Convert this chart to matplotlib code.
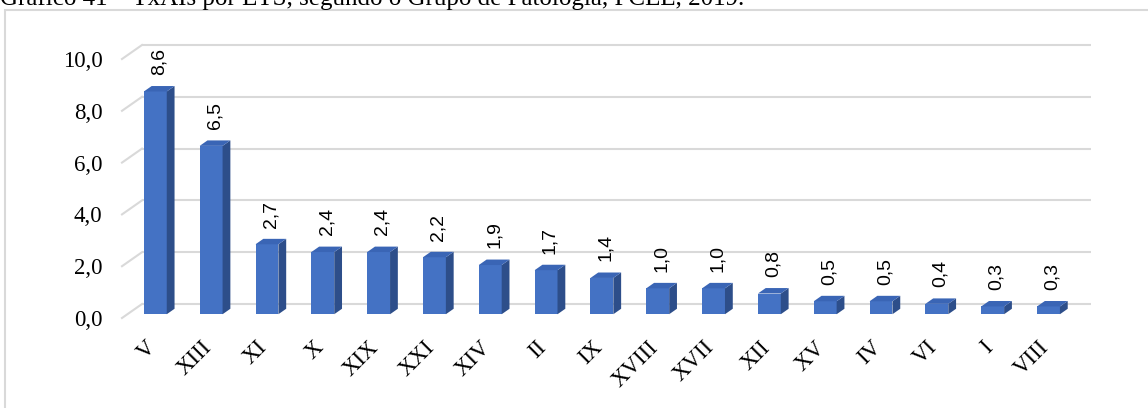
import matplotlib.pyplot as plt
from matplotlib.patches import Polygon, Rectangle

# TxAIs por ETS, by pathology group
grupos = ['V', 'XIII', 'XI', 'X', 'XIX', 'XXI', 'XIV', 'II', 'IX', 'XVIII',
          'XVII', 'XII', 'XV', 'IV', 'VI', 'I', 'VIII']
taxas = [8.6, 6.5, 2.7, 2.4, 2.4, 2.2, 1.9, 1.7, 1.4, 1.0,
         1.0, 0.8, 0.5, 0.5, 0.4, 0.3, 0.3]
yticks = [0, 2, 4, 6, 8, 10]

titulo = 'Gráfico 41 – TxAIs por ETS, segundo o Grupo de Patologia, PCEE, 2019.'

# fake 3D: depth vector of the floor in data units, bar depth slice
dx, dy = 0.358, 0.54
f0, f1 = 0.27, 0.66
w = 0.41

c_front = '#4472C4'
c_side = '#2D4E8A'
c_top = '#3A65B5'
c_grid = '#D9D9D9'

fig = plt.figure(figsize=(11.48, 4.08), dpi=100)
sub = fig.add_axes([122/1148, 90/408, 949/1148, 259/408])
sub.set_xlim(-0.5, len(grupos) - 0.5)
sub.set_ylim(0, 10)
for s in sub.spines.values():
    s.set_visible(False)

# back wall gridlines + slanted side-wall segments
x0, x1 = -0.5, len(grupos) - 0.5
for v in yticks:
    sub.plot([x0 + dx, x1 + dx], [v + dy, v + dy], color=c_grid, lw=1.5,
             clip_on=False, zorder=1, solid_capstyle='butt')
    sub.plot([x0, x0 + dx], [v, v + dy], color=c_grid, lw=1.5,
             clip_on=False, zorder=1)

for i, v in enumerate(taxas):
    xl = i - w/2
    xr = i + w/2
    front = Rectangle((xl + f0*dx, f0*dy), w, v, facecolor=c_front,
                      edgecolor='none', zorder=3, clip_on=False)
    side = Polygon([(xr + f0*dx, f0*dy), (xr + f1*dx, f1*dy),
                    (xr + f1*dx, v + f1*dy), (xr + f0*dx, v + f0*dy)],
                   closed=True, facecolor=c_side, edgecolor='none', zorder=3,
                   clip_on=False)
    top = Polygon([(xl + f0*dx, v + f0*dy), (xr + f0*dx, v + f0*dy),
                   (xr + f1*dx, v + f1*dy), (xl + f1*dx, v + f1*dy)],
                  closed=True, facecolor=c_top, edgecolor='none', zorder=3,
                  clip_on=False)
    sub.add_patch(front)
    sub.add_patch(side)
    sub.add_patch(top)
    sub.annotate(f'{v:.1f}'.replace('.', ','),
                 xy=(i + (f0 + f1)/2*dx, v + f1*dy), xytext=(0, 8),
                 textcoords='offset points', rotation=90, ha='center',
                 va='bottom', fontsize=14, family='Liberation Sans',
                 color='#000000', annotation_clip=False)

sub.set_yticks(yticks)
sub.set_yticklabels([f'{t:.1f}'.replace('.', ',') for t in yticks],
                    family='Liberation Serif', fontsize=16.5)
sub.set_xticks([i + f0*dx - 0.05 for i in range(len(grupos))])
sub.set_xticklabels(grupos, rotation=45, ha='right', va='center',
                    rotation_mode='anchor', family='Liberation Serif',
                    fontsize=16.5)
sub.tick_params(axis='y', length=0, pad=14)
sub.tick_params(axis='x', length=0, pad=19)

# outer frame and the caption cut by the top edge
fig.patches.append(Rectangle((5/1148, -0.2), 1.2, (398/408) + 0.2,
                             transform=fig.transFigure, fill=False,
                             edgecolor=c_grid, lw=1.5))
fig.text(0.0, 1 - 5/408, titulo, family='Liberation Serif', fontsize=18,
         ha='left', va='baseline')

fig.savefig('out.png', dpi=100)
